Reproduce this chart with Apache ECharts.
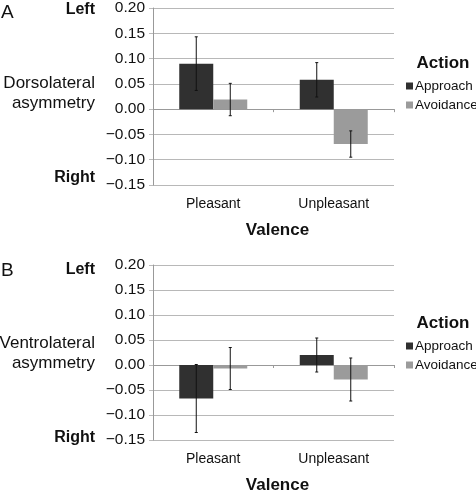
<!DOCTYPE html>
<html>
<head>
<meta charset="utf-8">
<script src="https://cdn.jsdelivr.net/npm/echarts@6/dist/echarts.min.js"></script>
<style>
html,body{margin:0;padding:0;background:#fff;}
#chart{width:476px;height:495px;}
</style>
</head>
<body>
<div id="chart"></div>
<script>
const categories = ['Pleasant', 'Unpleasant'];
const seriesNames = ['Approach', 'Avoidance'];
const yTicks = { min: -0.15, max: 0.20, interval: 0.05 };

// Panel A: Dorsolateral asymmetry
const dorsApproach = [0.090, 0.058];
const dorsApproachErr = [0.053, 0.034];
const dorsAvoid = [0.019, -0.069];
const dorsAvoidErr = [0.032, 0.026];

// Panel B: Ventrolateral asymmetry
const ventApproach = [-0.067, 0.020];
const ventApproachErr = [0.068, 0.034];
const ventAvoid = [-0.007, -0.029];
const ventAvoidErr = [0.042, 0.043];

const FONT = '"Liberation Sans", Arial, sans-serif';
const colors = ['#303030', '#9b9b9b'];
const BAR_W = 34;

const chart = echarts.init(document.getElementById('chart'), null, { renderer: 'canvas' });

const grids = [
  { left: 153, top: 5, width: 241, height: 180 },
  { left: 153, top: 265, width: 241, height: 179 }
];

function fmt(v) {
  const s = Math.abs(v).toFixed(2);
  return (v < -1e-9 ? '\u2212' : '') + s;
}

const xAxes = [], yAxes = [], series = [];
const panels = [
  { vals: [dorsApproach, dorsAvoid], errs: [dorsApproachErr, dorsAvoidErr] },
  { vals: [ventApproach, ventAvoid], errs: [ventApproachErr, ventAvoidErr] }
];

panels.forEach((p, gi) => {
  xAxes.push({
    type: 'category', gridIndex: gi, data: categories, position: 'bottom',
    axisLine: { onZero: true, lineStyle: { color: '#999', width: 1 } },
    axisTick: { show: true, length: 3, lineStyle: { color: '#999' } },
    axisLabel: { show: false }, splitLine: { show: false }
  });
  xAxes.push({
    type: 'category', gridIndex: gi, data: categories, position: 'bottom',
    axisLine: { show: false, onZero: false }, axisTick: { show: false },
    axisLabel: { show: true, margin: 12, fontFamily: FONT, fontSize: 14, color: '#111' },
    name: 'Valence', nameLocation: 'middle', nameGap: 37,
    nameTextStyle: { fontFamily: FONT, fontSize: 17, fontWeight: 'bold', color: '#111', padding: [0, 0, 0, 8] },
    splitLine: { show: false }
  });
  yAxes.push({
    type: 'value', gridIndex: gi, min: yTicks.min, max: yTicks.max, interval: yTicks.interval,
    axisLine: { show: true, lineStyle: { color: '#999' } },
    axisTick: { show: true, length: 4, lineStyle: { color: '#bbb' } },
    axisLabel: { formatter: fmt, margin: 8, fontFamily: FONT, fontSize: 15.5, color: '#111' },
    splitLine: { show: true, lineStyle: { color: '#b8b8b8', width: 1 } }
  });
  const xi = gi * 2;
  p.vals.forEach((vals, si) => {
    series.push({
      name: seriesNames[si], type: 'bar', xAxisIndex: xi, yAxisIndex: gi,
      data: vals, barWidth: BAR_W, barGap: '0%',
      itemStyle: { color: colors[si] }, silent: true
    });
  });
  p.vals.forEach((vals, si) => {
    const off = (si === 0 ? -1 : 1) * BAR_W / 2;
    series.push({
      type: 'custom', xAxisIndex: xi, yAxisIndex: gi, silent: true, z: 10,
      data: vals.map((v, i) => [i, v, p.errs[si][i]]),
      encode: { x: 0, y: 1 },
      renderItem: function (params, api) {
        const i = api.value(0), v = api.value(1), e = api.value(2);
        const hi = api.coord([i, v + e]);
        const lo = api.coord([i, v - e]);
        const cx = hi[0] + off;
        const st = { stroke: '#111', lineWidth: 1 };
        return {
          type: 'group', children: [
            { type: 'line', shape: { x1: cx, y1: hi[1], x2: cx, y2: lo[1] }, style: st },
            { type: 'line', shape: { x1: cx - 1.5, y1: hi[1], x2: cx + 1.5, y2: hi[1] }, style: st },
            { type: 'line', shape: { x1: cx - 1.5, y1: lo[1], x2: cx + 1.5, y2: lo[1] }, style: st }
          ]
        };
      }
    });
  });
});

const legends = [79, 339].map(t => ({
  data: seriesNames, orient: 'vertical', left: 406, top: t, padding: 0,
  icon: 'rect', itemWidth: 7, itemHeight: 7, itemGap: 5,
  textStyle: { fontFamily: FONT, fontSize: 13.5, color: '#111', padding: [0, 0, 0, -3] },
  selectedMode: false
}));

function txt(text, x, y, opts) {
  return {
    type: 'text', x: x, y: y, silent: true,
    style: Object.assign({
      text: text, fill: '#111', textAlign: 'right', textVerticalAlign: 'middle',
      font: '17px ' + FONT
    }, opts || {})
  };
}

const graphics = [];
[0, 260].forEach((dy, k) => {
  graphics.push(txt(k === 0 ? 'A' : 'B', 1, 13 + dy - (k ? 2 : 0), { textAlign: 'left', font: '19px ' + FONT }));
  graphics.push(txt('Left', 95, 10 + dy, { font: 'bold 16px ' + FONT }));
  graphics.push(txt('Right', 95, 178 + dy, { font: 'bold 16px ' + FONT }));
  graphics.push(txt(k === 0 ? 'Dorsolateral' : 'Ventrolateral', 95, 83 + dy));
  graphics.push(txt('asymmetry', 95, 103 + dy));
  graphics.push(txt('Action', 443, 63 + dy, { textAlign: 'center', font: 'bold 17px ' + FONT }));
});

chart.setOption({
  backgroundColor: '#fff',
  animation: false,
  grid: grids,
  xAxis: xAxes,
  yAxis: yAxes,
  legend: legends,
  series: series,
  graphic: graphics
});
</script>
</body>
</html>
